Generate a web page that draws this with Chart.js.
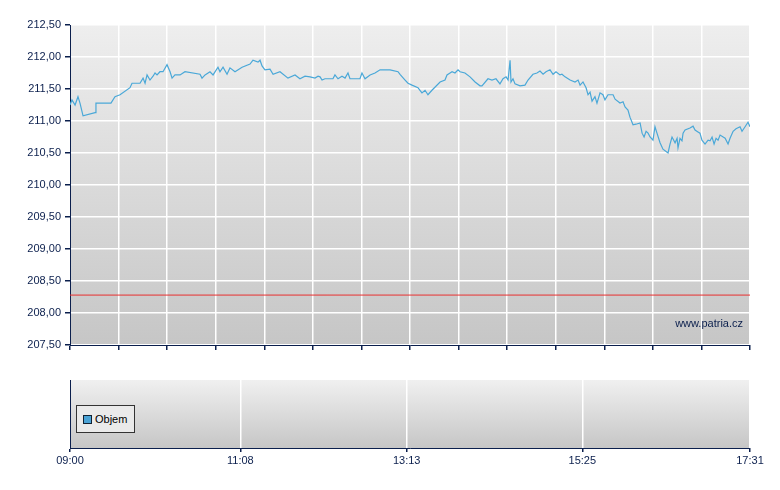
<!DOCTYPE html>
<html><head><meta charset="utf-8">
<script src="https://cdn.jsdelivr.net/npm/chart.js@4"></script>
<style>
body{margin:0;background:#fff;width:780px;height:490px;position:relative;font-family:Arial,"Liberation Sans",sans-serif;}
#c1{position:absolute;left:0;top:0;}
#c2{position:absolute;left:0;top:370px;}
#leg{position:absolute;left:76px;top:405px;width:59px;height:28px;border:1px solid #333;background:#eaeaea;font-size:11px;line-height:27px;color:#000;box-sizing:border-box;padding-left:6px;}
#leg span{display:inline-block;width:7px;height:7px;background:#4aa3d6;border:1px solid #123;margin-right:3px;vertical-align:-1px;}
</style></head><body>
<canvas id="c1" width="780" height="360"></canvas>
<canvas id="c2" width="780" height="120"></canvas>
<div id="leg"><span></span>Objem</div>
<script>
// minutes since 09:00
const minutes=[0,1.5,3.8,6,7.5,9.8,18.8,19.5,30.8,33.8,37.6,45.1,46.6,52.6,54.9,56.4,57.9,60.1,62.4,63.9,65.4,67.6,69.9,72.9,75.2,76.7,78.9,82.7,86.4,97.7,99.2,101.5,105.2,107.5,111.2,112.7,115,118,120.2,124,129.3,135.3,137.5,141.3,142.8,144.3,146.5,150.3,152.6,157.8,163.8,169.1,172.8,176.6,180.4,184.1,186.4,187.9,189.4,191.6,197.6,199.1,201.4,204.4,206.7,208.9,210.4,217.9,219.4,221.7,225.5,229.2,233,240.5,246.5,248,251.8,254,257,261.5,263,264.5,266.8,269,272,278.1,281.8,283.3,285.6,287.1,289.3,291.6,293.1,296.8,300.6,304.4,308.1,309.6,314.1,317.1,320.1,323.1,325.4,327.7,329.2,330.7,331.4,332.9,334.4,338.2,341.9,344.2,347.9,350.9,353.2,355.5,357.7,360.7,363,365.2,368.2,369.7,372,375.8,379.5,381.8,383.3,385.5,387.8,389.3,390.8,392.3,394.5,396,398.3,400.5,402,404.3,408.1,409.6,413.3,415.6,417.1,419.3,420.8,423.1,425.3,428.4,429.9,431.4,432.9,434.4,435.9,438.1,439.6,441.1,443.4,445.6,449.4,450.9,452.4,454.7,456.2,456.9,458.4,459.9,460.7,462.2,465.9,468.2,469.7,471.9,473.4,474.9,477.2,479.5,481,482.5,484,485.5,487,488.5,492.3,494.5,496,498.3,500.5,503.5,505,507.3,509.5,511];
const price=[211.25,211.33,211.25,211.38,211.28,211.08,211.13,211.28,211.28,211.38,211.41,211.52,211.59,211.59,211.67,211.59,211.72,211.64,211.70,211.75,211.72,211.77,211.77,211.88,211.77,211.67,211.72,211.72,211.77,211.73,211.67,211.72,211.77,211.72,211.84,211.77,211.84,211.73,211.83,211.77,211.84,211.89,211.95,211.92,211.95,211.86,211.80,211.81,211.73,211.77,211.67,211.72,211.66,211.70,211.69,211.67,211.70,211.69,211.64,211.66,211.66,211.72,211.66,211.70,211.67,211.75,211.66,211.66,211.75,211.66,211.72,211.75,211.80,211.80,211.77,211.73,211.64,211.59,211.56,211.52,211.48,211.44,211.48,211.41,211.48,211.61,211.64,211.72,211.75,211.77,211.75,211.80,211.77,211.75,211.69,211.61,211.55,211.55,211.66,211.64,211.66,211.58,211.66,211.69,211.64,211.95,211.61,211.66,211.58,211.55,211.56,211.64,211.73,211.75,211.78,211.73,211.77,211.80,211.73,211.77,211.72,211.73,211.69,211.64,211.61,211.64,211.56,211.61,211.52,211.41,211.45,211.31,211.38,211.28,211.44,211.41,211.33,211.41,211.41,211.34,211.28,211.30,211.22,211.17,211.06,210.94,210.95,210.97,210.81,210.75,210.84,210.81,210.75,210.70,210.91,210.81,210.66,210.56,210.50,210.64,210.75,210.66,210.73,210.58,210.73,210.69,210.81,210.86,210.89,210.92,210.86,210.83,210.81,210.70,210.64,210.70,210.69,210.75,210.64,210.73,210.70,210.78,210.73,210.64,210.73,210.84,210.88,210.91,210.84,210.91,210.98,210.91];
const refLevel=208.28;
const yTicks=[207.5,208,208.5,209,209.5,210,210.5,211,211.5,212,212.5];
const timeLabels=['09:00','11:08','13:13','15:25','17:31'];
const timeLabelMinutes=[0,128,253,385,511];
const watermark='www.patria.cz';

const navy='#0b1f4d';
const bgPlugin={id:'bg',beforeDraw(c,a,o){const {ctx,chartArea:ca}=c;const g=ctx.createLinearGradient(0,ca.top,0,ca.bottom);g.addColorStop(0,o.top);g.addColorStop(1,o.bottom);ctx.save();ctx.fillStyle=g;ctx.fillRect(ca.left,ca.top,ca.right-ca.left,ca.bottom-ca.top);ctx.restore();},
afterDatasetsDraw(c,a,o){if(!o.text)return;const {ctx,chartArea:ca}=c;ctx.save();ctx.font='11px Arial';ctx.fillStyle='#0b1f4d';ctx.textAlign='right';ctx.fillText(o.text,ca.right-7,ca.bottom-18);ctx.restore();}};

const xs=minutes.map((m,i)=>({x:m,y:price[i]}));
new Chart(document.getElementById('c1'),{type:'line',plugins:[bgPlugin],
data:{datasets:[
{data:xs,borderColor:'#4aa8d8',borderWidth:1.2,pointRadius:0,tension:0},
{data:[{x:0,y:refLevel},{x:511,y:refLevel}],borderColor:'#e83030',borderWidth:1,pointRadius:0}
]},
options:{responsive:false,animation:false,layout:{padding:{top:25,right:30,left:0,bottom:0}},
plugins:{legend:{display:false},tooltip:{enabled:false},bg:{top:'#eeeeee',bottom:'#c6c6c6',text:watermark}},
scales:{
x:{type:'linear',min:0,max:511,afterFit(s){s.height=15;},
afterBuildTicks(s){s.ticks=Array.from({length:15},(_,i)=>({value:511*i/14}));},
ticks:{display:false},grid:{color:'#ffffff',lineWidth:1.5,tickLength:5,tickColor:navy},border:{color:navy,width:1}},
y:{min:207.5,max:212.5,afterFit(s){s.width=70;},
afterBuildTicks(s){s.ticks=yTicks.map(v=>({value:v}));},
ticks:{color:navy,font:{size:11,family:'Arial'},padding:4,callback:v=>v.toFixed(2).replace('.',',')},
grid:{color:'#ffffff',lineWidth:1.5,tickLength:5,tickColor:navy},border:{color:navy,width:1}}
}}});

new Chart(document.getElementById('c2'),{type:'line',plugins:[bgPlugin],
data:{datasets:[{data:[],borderColor:'#4aa8d8'}]},
options:{responsive:false,animation:false,layout:{padding:{top:10,right:30,left:0,bottom:0}},
plugins:{legend:{display:false},tooltip:{enabled:false},bg:{top:'#f0f0f0',bottom:'#c6c6c6'}},
scales:{
x:{type:'linear',min:0,max:511,afterFit(s){s.height=42;},
afterBuildTicks(s){s.ticks=timeLabelMinutes.map(v=>({value:v}));},
ticks:{color:navy,font:{size:11,family:'Arial'},padding:2,maxRotation:0,autoSkip:false,callback:(v)=>timeLabels[timeLabelMinutes.indexOf(v)]},
grid:{color:'#ffffff',lineWidth:1.5,tickLength:4,tickColor:navy},border:{color:navy,width:1}},
y:{min:0,max:1,afterFit(s){s.width=70;},ticks:{display:false},grid:{display:false},border:{color:navy,width:1}}
}}});
</script></body></html>
